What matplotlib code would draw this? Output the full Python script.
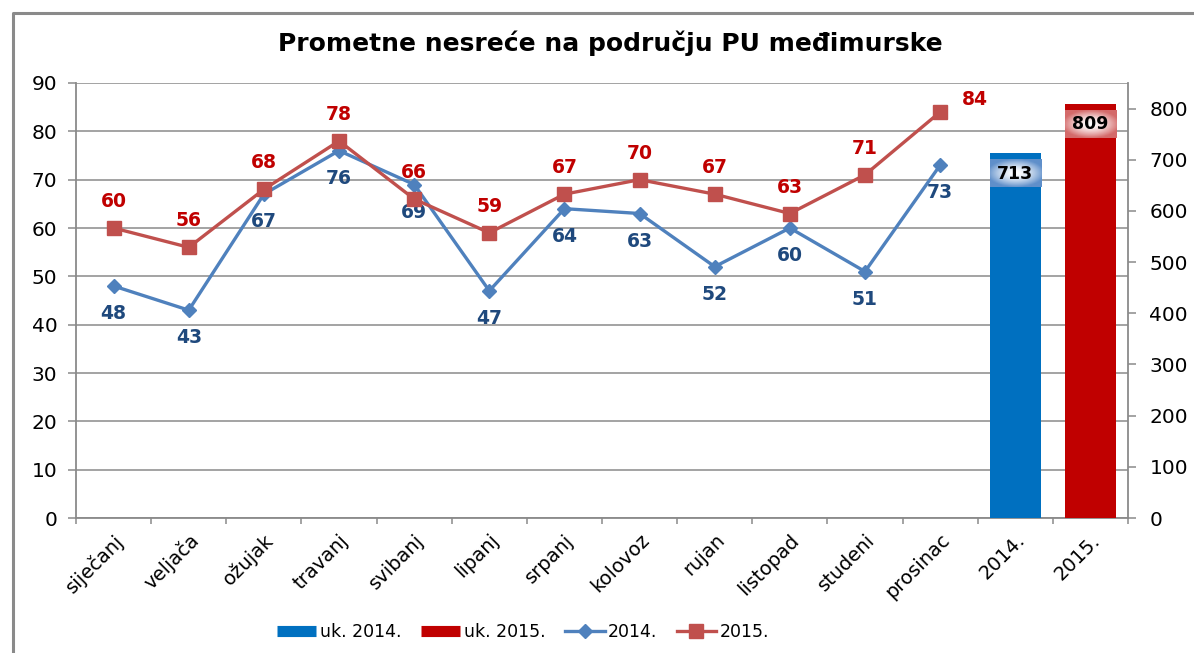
import numpy as np
import matplotlib.pyplot as plt
import matplotlib.transforms as mtransforms
from matplotlib.lines import Line2D
from matplotlib.colors import to_rgb

plt.rcParams['font.family'] = ['DejaVu Sans']

# ------------------------------------------------------------------ data
months = ["siječanj", "veljača", "ožujak", "travanj", "svibanj", "lipanj",
          "srpanj", "kolovoz", "rujan", "listopad", "studeni", "prosinac"]
total_labels = ["2014.", "2015."]
v2014 = [48, 43, 67, 76, 69, 47, 64, 63, 52, 60, 51, 73]
v2015 = [60, 56, 68, 78, 66, 59, 67, 70, 67, 63, 71, 84]
totals = [713, 809]

BLUE_LINE, RED_LINE = "#4F81BD", "#C0504D"
BLUE_BAR, RED_BAR = "#0070C0", "#C00000"
BLUE_TXT, RED_TXT = "#1F497D", "#C00000"
GREY = "#8a8a8a"

fig = plt.figure(figsize=(11.94, 6.53), dpi=100)
ax = fig.add_axes([0.0637, 0.2067, 0.881, 0.6662])
ax2 = ax.twinx()

cats = months + total_labels
xm = np.arange(len(months))
xb = np.arange(len(months), len(cats))

# bars (right axis)
ax2.bar(xb, totals, width=0.68, color=[BLUE_BAR, RED_BAR], zorder=2)


def glow(edge):
    u = np.linspace(-1, 1, 60)
    v = np.linspace(-1, 1, 20)
    U, V = np.meshgrid(u, v)
    r = np.clip(np.sqrt((U ** 2) * 0.8 + (V ** 2) * 0.9), 0, 1) ** 1.6
    e = np.array(to_rgb(edge))
    return (1 - r[..., None]) * np.ones(3) + r[..., None] * e


for x, val, edge in zip(xb, totals, ["#5f8fca", "#d46a6a"]):
    ax2.imshow(glow(edge), extent=[x - 0.34, x + 0.34, val - 67, val - 13],
               aspect="auto", zorder=3, interpolation="bilinear")
    ax2.text(x, val - 40, f"{val}", ha="center", va="center",
             fontsize=12.5, fontweight="bold", color="black", zorder=4)

# lines (left axis)
ax.plot(xm, v2014, color=BLUE_LINE, lw=2.4, marker="D", ms=7,
        mec=BLUE_LINE, zorder=3)
ax.plot(xm, v2015, color=RED_LINE, lw=2.4, marker="s", ms=9.5,
        mec=RED_LINE, zorder=4)
for x, y in zip(xm, v2014):
    ax.annotate(f"{y}", (x, y), xytext=(0, -20), textcoords="offset points",
                ha="center", va="center", fontsize=13.5, fontweight="bold",
                color=BLUE_TXT)
for x, y in zip(xm, v2015):
    off = (25, 9) if x == xm[-1] else (0, 19)
    ax.annotate(f"{y}", (x, y), xytext=off, textcoords="offset points",
                ha="center", va="center", fontsize=13.5, fontweight="bold",
                color=RED_TXT)

# axes styling
ax.set_xlim(-0.5, len(cats) - 0.5)
ax.set_ylim(0, 90)
ax2.set_ylim(0, 850)
ax.set_yticks(range(0, 91, 10))
ax2.set_yticks(range(0, 801, 100))
ax.yaxis.grid(True, color=GREY, lw=1.1, zorder=0)
ax.set_axisbelow(True)
ax.set_xticks(np.arange(len(cats)))
ax.set_xticklabels(cats, rotation=45, ha="right", va="top",
                   rotation_mode="anchor", fontsize=14)
shift = mtransforms.ScaledTranslation(12 / 100, 0, fig.dpi_scale_trans)
for lab in ax.get_xticklabels():
    lab.set_transform(lab.get_transform() + shift)
ax.set_xticks(np.arange(-0.5, len(cats)), minor=True)
ax.tick_params(axis="x", which="major", length=0, pad=9)
ax.tick_params(axis="x", which="minor", length=4, width=1.1, color=GREY)
ax.tick_params(axis="y", length=5.5, width=1.1, color=GREY, pad=8,
               labelsize=14.5)
ax2.tick_params(axis="y", length=5.5, width=1.1, color=GREY, pad=10,
                labelsize=14.5)
for a in (ax, ax2):
    for s in a.spines.values():
        s.set_visible(False)
ax.spines["left"].set_visible(True)
ax.spines["bottom"].set_visible(True)
ax2.spines["right"].set_visible(True)
for s in (ax.spines["left"], ax.spines["bottom"], ax2.spines["right"]):
    s.set_color(GREY)
    s.set_linewidth(1.3)

fig.text(0.511, 0.934, "Prometne nesreće na području PU međimurske",
         ha="center", va="center", fontsize=18, fontweight="bold")

# outer chart frame (only top and left edges fall inside the picture)
fig.add_artist(Line2D([0.0105, 0.0105, 1.01], [-0.01, 0.980, 0.980],
                      color=GREY, lw=2.2, transform=fig.transFigure))

handles = [
    Line2D([], [], color=BLUE_BAR, lw=8, solid_capstyle="butt"),
    Line2D([], [], color=RED_BAR, lw=8, solid_capstyle="butt"),
    Line2D([], [], color=BLUE_LINE, lw=2.4, marker="D", ms=7),
    Line2D([], [], color=RED_LINE, lw=2.4, marker="s", ms=9.5),
]
fig.legend(handles, ["uk. 2014.", "uk. 2015.", "2014.", "2015."],
           loc="center", bbox_to_anchor=(0.438, 0.032), ncol=4,
           frameon=False, fontsize=12.5, handlelength=2.3,
           handletextpad=0.2, columnspacing=1.1)

fig.savefig("out.png", dpi=100)
